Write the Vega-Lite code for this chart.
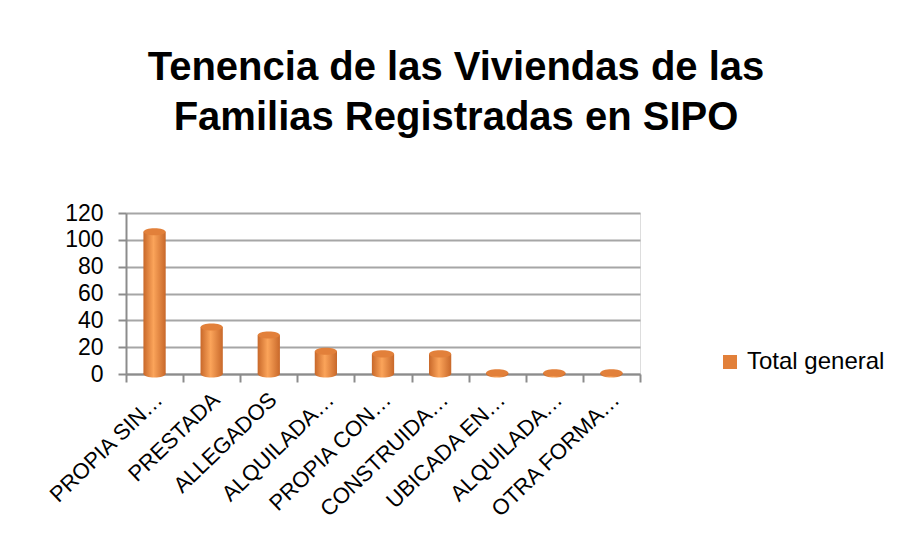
{
  "$schema": "https://vega.github.io/schema/vega-lite/v6.json",
  "autosize": "none",
  "width": 514,
  "height": 161,
  "padding": {"left": 126, "top": 213, "right": 269, "bottom": 182},
  "background": "white",
  "title": {
    "text": ["Tenencia de las Viviendas de las", "Familias Registradas en SIPO"],
    "font": "Liberation Sans",
    "fontSize": 40,
    "fontWeight": "bold",
    "color": "black",
    "lineHeight": 50,
    "anchor": "middle",
    "dx": 73,
    "offset": 64
  },
  "data": {
    "values": [
      {"categoria": "PROPIA SIN…", "valor": 106, "serie": "Total general"},
      {"categoria": "PRESTADA", "valor": 35, "serie": "Total general"},
      {"categoria": "ALLEGADOS", "valor": 29, "serie": "Total general"},
      {"categoria": "ALQUILADA…", "valor": 17, "serie": "Total general"},
      {"categoria": "PROPIA CON…", "valor": 15, "serie": "Total general"},
      {"categoria": "CONSTRUIDA…", "valor": 15, "serie": "Total general"},
      {"categoria": "UBICADA EN…", "valor": 1, "serie": "Total general"},
      {"categoria": "ALQUILADA… ", "valor": 1, "serie": "Total general"},
      {"categoria": "OTRA FORMA…", "valor": 1, "serie": "Total general"}
    ]
  },
  "encoding": {
    "x": {
      "field": "categoria",
      "type": "nominal",
      "sort": null,
      "scale": {"paddingInner": 0, "paddingOuter": 0},
      "axis": {
        "title": null,
        "labelAngle": -44,
        "labelAlign": "right",
        "labelBaseline": "middle",
        "labelFont": "Liberation Sans",
        "labelFontSize": 22,
        "labelColor": "black",
        "labelPadding": 14,
        "labelOffset": 4,
        "labelLimit": 300,
        "tickBand": "extent",
        "tickSize": 8,
        "tickColor": "#8c8c8c",
        "tickWidth": 2,
        "domainColor": "#8c8c8c",
        "domainWidth": 2,
        "grid": false
      }
    },
    "y": {
      "field": "valor",
      "type": "quantitative",
      "scale": {"domain": [0, 120], "nice": false},
      "axis": {
        "title": null,
        "values": [0, 20, 40, 60, 80, 100, 120],
        "labelFont": "Liberation Sans",
        "labelFontSize": 23,
        "labelColor": "black",
        "labelPadding": 15,
        "tickSize": 8,
        "tickColor": "#8c8c8c",
        "tickWidth": 2,
        "domainColor": "#8c8c8c",
        "domainWidth": 2,
        "grid": true,
        "gridColor": "#a6a6a6",
        "gridWidth": 2
      }
    }
  },
  "layer": [
    {
      "mark": {
        "type": "point",
        "shape": "M-1,0A1,0.32,0,1,1,1,0A1,0.32,0,1,1,-1,0Z",
        "size": 484,
        "filled": true,
        "opacity": 1,
        "color": {
          "gradient": "linear",
          "x1": 0, "y1": 0, "x2": 1, "y2": 0,
          "stops": [
            {"offset": 0, "color": "#c8682a"},
            {"offset": 0.45, "color": "#fba45a"},
            {"offset": 1, "color": "#c8682a"}
          ]
        }
      },
      "encoding": {"y": {"datum": 0}}
    },
    {
      "mark": {
        "type": "bar",
        "width": {"band": 0.39},
        "color": {
          "gradient": "linear",
          "x1": 0, "y1": 0, "x2": 1, "y2": 0,
          "stops": [
            {"offset": 0, "color": "#c8682a"},
            {"offset": 0.45, "color": "#fba45a"},
            {"offset": 1, "color": "#c8682a"}
          ]
        }
      }
    },
    {
      "mark": {
        "type": "point",
        "shape": "M-1,0A1,0.32,0,1,1,1,0A1,0.32,0,1,1,-1,0Z",
        "size": 484,
        "filled": true,
        "opacity": 1
      },
      "encoding": {
        "color": {
          "field": "serie",
          "type": "nominal",
          "scale": {"range": ["#e2803a"]},
          "legend": {
            "title": null,
            "orient": "none",
            "legendX": 592,
            "legendY": 137,
            "symbolType": "square",
            "symbolSize": 196,
            "symbolStrokeWidth": 0,
            "labelFont": "Liberation Sans",
            "labelFontSize": 24,
            "labelColor": "black",
            "labelOffset": 5,
            "encode": {
              "symbols": {
                "update": {
                  "fill": {"value": "#f79646"},
                  "shape": {"value": "square"},
                  "strokeWidth": {"value": 0}
                }
              }
            }
          }
        }
      }
    }
  ]
}
